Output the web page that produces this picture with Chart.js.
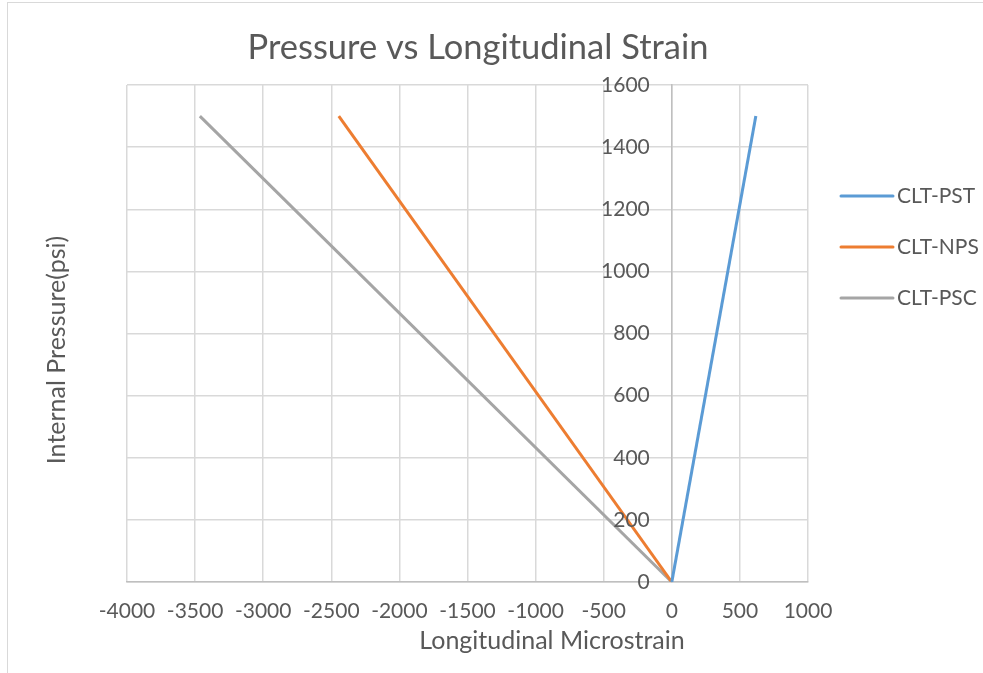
<!DOCTYPE html>
<html>
<head>
<meta charset="utf-8">
<script src="https://cdn.jsdelivr.net/npm/chart.js@4.4.1/dist/chart.umd.min.js"></script>
<style>
  html, body { margin: 0; padding: 0; background: #fff; }
  #wrap { position: relative; width: 983px; height: 673px; }
  #frame { position: absolute; left: 7px; top: 2px; width: 990px; height: 690px; border: 1px solid #d9d9d9; }
</style>
</head>
<body>
<div id="wrap">
  <div id="frame"></div>
  <canvas id="strainChart" width="983" height="673"></canvas>
</div>
<script>
var pressure = [0, 1500];
var pstStrain = [0, 617];
var npsStrain = [0, -2445];
var pscStrain = [0, -3465];
var seriesNames = ["CLT-PST", "CLT-NPS", "CLT-PSC"];
var seriesColors = ["#5b9bd5", "#ed7d31", "#a5a5a5"];
var xTicks = [-4000, -3500, -3000, -2500, -2000, -1500, -1000, -500, 0, 500, 1000];
var yTicks = [0, 200, 400, 600, 800, 1000, 1200, 1400, 1600];

function pts(xs) {
    return xs.map(function (x, i) { return { x: x, y: pressure[i] }; });
}

var textColor = "#595959";
var fontFam = "Lato, 'Open Sans', sans-serif";

// title, axis titles, y labels and legend drawn by hand so they sit where excel put them
var extras = {
    id: "extras",
    afterDraw: function (chart) {
        var ctx = chart.ctx;
        var xs = chart.scales.x, ys = chart.scales.y;
        ctx.save();
        ctx.fillStyle = textColor;
        ctx.textBaseline = "middle";

        ctx.font = "34.5px " + fontFam;
        ctx.textAlign = "center";
        ctx.fillText("Pressure vs Longitudinal Strain", 478, 48);

        ctx.font = "25px " + fontFam;
        ctx.fillText("Longitudinal Microstrain", 552, 641);

        ctx.save();
        ctx.translate(57, 350);
        ctx.rotate(-Math.PI / 2);
        ctx.fillText("Internal Pressure(psi)", 0, 0);
        ctx.restore();

        // y tick labels sit left of the axis that crosses at x = 0
        ctx.font = "21px " + fontFam;
        ctx.textAlign = "right";
        var axisX = xs.getPixelForValue(0);
        yTicks.forEach(function (v) {
            ctx.fillText(String(v), axisX - 22, ys.getPixelForValue(v));
        });

        ctx.textAlign = "left";
        chart.data.datasets.forEach(function (ds, i) {
            var y = 196 + i * 51;
            ctx.strokeStyle = ds.borderColor;
            ctx.lineWidth = 3;
            ctx.lineCap = "round";
            ctx.beginPath();
            ctx.moveTo(841, y);
            ctx.lineTo(893, y);
            ctx.stroke();
            ctx.fillText(ds.label, 897, y);
        });
        ctx.restore();
    }
};

function plain(v) { return String(v); }

new Chart(document.querySelector("#strainChart"), {
    type: "scatter",
    data: {
        datasets: [{
            label: seriesNames[0],
            data: pts(pstStrain),
            borderColor: seriesColors[0],
            backgroundColor: seriesColors[0]
        }, {
            label: seriesNames[1],
            data: pts(npsStrain),
            borderColor: seriesColors[1],
            backgroundColor: seriesColors[1]
        }, {
            label: seriesNames[2],
            data: pts(pscStrain),
            borderColor: seriesColors[2],
            backgroundColor: seriesColors[2]
        }]
    },
    options: {
        responsive: false,
        animation: false,
        showLine: true,
        borderWidth: 3,
        pointRadius: 0,
        pointHoverRadius: 0,
        layout: { padding: { left: 127, top: 85, right: 175, bottom: 0 } },
        plugins: {
            legend: { display: false },
            title: { display: false },
            tooltip: { enabled: false }
        },
        scales: {
            x: {
                type: "linear",
                min: -4000,
                max: 1000,
                afterBuildTicks: function (s) { s.ticks = xTicks.map(function (v) { return { value: v }; }); },
                afterFit: function (s) { s.height = 91; },
                grid: { color: "#d9d9d9", lineWidth: 1.5, drawTicks: false },
                border: { color: "#bfbfbf", width: 1.5 },
                ticks: { color: textColor, font: { family: fontFam, size: 21 }, padding: 17, maxRotation: 0, callback: plain }
            },
            y: {
                type: "linear",
                position: { x: 0 },
                min: 0,
                max: 1600,
                afterBuildTicks: function (s) { s.ticks = yTicks.map(function (v) { return { value: v }; }); },
                grid: { color: "#d9d9d9", lineWidth: 1.5, drawTicks: false },
                border: { color: "#bfbfbf", width: 1.5 },
                ticks: { display: false }
            }
        }
    },
    plugins: [extras]
});
</script>
</body>
</html>
